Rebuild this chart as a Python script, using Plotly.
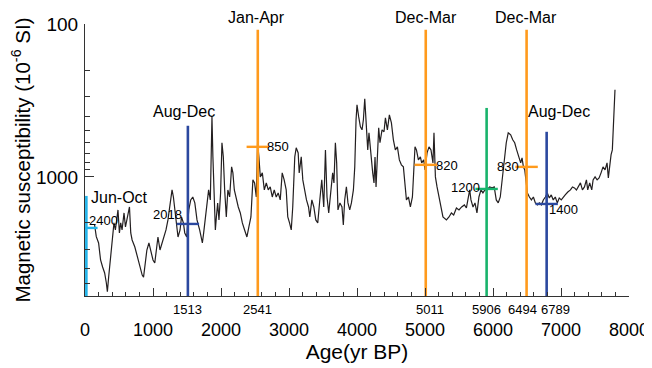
import numpy as np
import plotly.graph_objects as go

# ---------------- data ----------------
age_a = [141, 166, 200, 229, 259, 289, 314, 329, 348, 363, 388, 411, 426, 447, 466, 485, 506, 525, 545, 574,
         595, 614, 633, 654, 673, 693, 733, 773, 807, 841, 861, 881, 910, 940, 969, 1000, 1026, 1051, 1073, 1103,
         1133, 1162, 1191, 1220, 1250, 1280, 1300, 1320, 1345, 1368, 1398, 1419, 1447, 1467, 1496, 1526, 1555, 1585, 1615]
sus_a = [2062, 2460, 2705, 3496, 3887, 4252, 4944, 5640, 4520, 3887, 3145, 2472, 2000, 2224, 1912, 1645, 2326, 2000, 2224, 1721,
         2126, 1912, 1721, 1573, 2326, 2586, 2874, 3342, 3887, 4384, 4520, 3887, 3007, 2705, 3007, 3496, 3657, 3007, 2472, 3007,
         2705, 2472, 2224, 1912, 1480, 1217, 1353, 1645, 2000, 2472, 2224, 1829, 2000, 2326, 2472, 1645, 1415, 1353, 1480]

age_b = [1647, 1686, 1726, 1745, 1774, 1794, 1818, 1843, 1867, 1881, 1902, 1917, 1932, 1951, 1970, 1994, 2014, 2034, 2054, 2078,
         2101, 2127, 2156, 2175, 2196, 2225, 2254, 2284, 2314, 2347, 2381, 2410, 2440, 2469, 2494, 2519, 2538, 2557, 2578, 2608,
         2637, 2666, 2695, 2724, 2754, 2783, 2812, 2841, 2871, 2900, 2929, 2959, 2982, 3008, 3033, 3055, 3085, 3106, 3135]
sus_b = [1912, 2224, 2705, 2326, 1721, 1415, 1217, 1415, 405, 740, 1415, 2224, 1829, 1480, 1912, 1273, 598, 740, 1217, 1829,
         1217, 1353, 860, 941, 1217, 1415, 1573, 1721, 2000, 2224, 2472, 2126, 1829, 1046, 1094, 1353, 598, 740, 1000, 941,
         1217, 1094, 1217, 1163, 1353, 1217, 1353, 1273, 1415, 941, 1046, 1217, 1829, 2000, 2224, 1573, 740, 645, 697]

age_c = [3150, 3180, 3203, 3228, 3257, 3287, 3306, 3336, 3365, 3394, 3423, 3453, 3482, 3511, 3536, 3559, 3584, 3613, 3642, 3661,
         3682, 3701, 3720, 3749, 3779, 3799, 3819, 3844, 3867, 3893, 3918, 3947, 3967, 3986, 4000, 4025, 4050, 4074, 4094, 4114,
         4133, 4158, 4176, 4201, 4231, 4250, 4265, 4280, 4300, 4319, 4338, 4368, 4397, 4418, 4447, 4476, 4506, 4535, 4564, 4594,
         4623, 4653, 4682, 4702]
sus_c = [941, 740, 1046, 1217, 1415, 1573, 1829, 1415, 1573, 1912, 2000, 1415, 1046, 1573, 666, 1353, 1721, 1273, 941, 1094,
         598, 810, 1645, 1480, 1573, 2062, 1415, 1163, 1480, 1645, 1480, 1217, 860, 423, 338, 405, 470, 492, 423, 308,
         443, 666, 515, 697, 941, 1094, 740, 1163, 636, 477, 598, 492, 507, 411, 492, 393, 443, 572, 666, 636,
         774, 834, 860, 1046]

age_d = [4727, 4756, 4785, 4815, 4834, 4853, 4874, 4903, 4932, 4951, 4981, 5000, 5030, 5059, 5088, 5117, 5132, 5153, 5177, 5206,
         5235, 5264, 5315, 5353, 5388, 5422, 5462, 5500, 5539, 5579, 5609, 5638, 5657, 5676, 5706, 5735, 5764, 5793, 5823, 5852,
         5881, 5911, 5950, 5989, 6018, 6048, 6077, 6107, 6136, 6165, 6195, 6224]
sus_d = [1415, 1353, 1573, 1353, 860, 636, 666, 774, 740, 810, 774, 900, 697, 636, 666, 810, 515, 1000, 1163, 1353,
         1645, 1829, 1912, 1829, 1721, 1774, 1597, 1645, 1573, 1526, 1597, 1353, 1217, 1415, 1573, 1480, 1721, 1353, 1217, 1273,
         1217, 1217, 1163, 1180, 1163, 1415, 1480, 1353, 1046, 810, 598, 515]

age_e = [6260, 6290, 6319, 6348, 6378, 6407, 6427, 6447, 6467, 6486, 6506, 6535, 6565, 6594, 6623, 6653, 6682, 6711, 6740, 6770,
         6799, 6828, 6857, 6886, 6916, 6945, 6974, 7004, 7032, 7062, 7100, 7139, 7169, 7198, 7227, 7257, 7286, 7315, 7345, 7374,
         7393, 7422, 7452, 7472, 7501, 7531, 7560, 7589, 7618, 7648, 7677, 7696, 7715, 7736, 7755, 7774, 7794]
sus_e = [531, 572, 598, 666, 740, 810, 751, 860, 900, 1094, 1273, 1353, 1415, 1353, 1480, 1526, 1480, 1526, 1415, 1353,
         1273, 1373, 1312, 1415, 1353, 1480, 1373, 1415, 1353, 1312, 1255, 1217, 1163, 1180, 1217, 1163, 1094, 1217, 1163, 1046,
         1217, 1094, 1217, 1046, 1000, 1046, 1015, 941, 860, 900, 810, 1015, 810, 718, 666, 381, 269]

ages = age_a + age_b + age_c + age_d + age_e
susceptibility = sus_a + sus_b + sus_c + sus_d + sus_e

# events (vertical bars)
event_ages = [20, 1513, 2541, 5011, 5906, 6494, 6789]
event_top = [1332, 463, 109, 109, 354, 109, 507]
event_cross = [2157, 2031, 636, 834, 1199, 860, 1503]
event_seasons = ["Jun-Oct", "Aug-Dec", "Jan-Apr", "Dec-Mar", "", "Dec-Mar", "Aug-Dec"]
event_rates = ["2400", "2018", "850", "820", "1200", "830", "1400"]
event_axis_labels = ["", "1513", "2541", "5011", "5906", "6494", "6789"]
event_colors = ["#22b4ea", "#2b489f", "#ff9a1c", "#ff9a1c", "#18b36b", "#ff9a1c", "#2b489f"]

x_ticks = [0, 1000, 2000, 3000, 4000, 5000, 6000, 7000, 8000]
y_ticks = [100, 1000]
y_minor = [200, 300, 400, 500, 600, 700, 800, 900, 2000, 3000, 4000, 5000]

# ---------------- figure ----------------
FONT = "Liberation Sans, Arial, Helvetica, sans-serif"
Y_BOTTOM = 6012

fig = go.Figure()
fig.add_trace(go.Scatter(x=ages, y=susceptibility, mode="lines",
                         line=dict(color="#231f20", width=1.2), showlegend=False, hoverinfo="skip"))

for i, a in enumerate(event_ages):
    c = event_colors[i]
    fig.add_trace(go.Scatter(x=[a, a], y=[event_top[i], Y_BOTTOM], mode="lines",
                             line=dict(color=c, width=2.6), showlegend=False, hoverinfo="skip"))
    fig.add_trace(go.Scatter(x=[a], y=[event_cross[i]], mode="markers",
                             marker=dict(symbol="line-ew", size=16, line=dict(width=2.4, color=c)),
                             showlegend=False, hoverinfo="skip"))

annotations = []
# season labels (offsets in px relative to bar tops)
season_pos = {
    0: dict(xanchor="left", yanchor="middle", xshift=3, yshift=-2),
    1: dict(xanchor="center", yanchor="bottom", xshift=-4, yshift=4),
    2: dict(xanchor="center", yanchor="bottom", xshift=-1, yshift=2),
    3: dict(xanchor="center", yanchor="bottom", xshift=0, yshift=2),
    5: dict(xanchor="center", yanchor="bottom", xshift=-1, yshift=2),
    6: dict(xanchor="center", yanchor="bottom", xshift=12, yshift=10),
}
for i, p in season_pos.items():
    annotations.append(dict(x=event_ages[i], y=np.log10(event_top[i]), xref="x", yref="y",
                            text=event_seasons[i], showarrow=False,
                            font=dict(family=FONT, size=16, color="black"), **p))

rate_pos = [
    dict(xanchor="left", xshift=1, yshift=7),
    dict(xanchor="right", xshift=-4, yshift=9),
    dict(xanchor="left", xshift=7, yshift=0),
    dict(xanchor="left", xshift=8, yshift=-1),
    dict(xanchor="right", xshift=-5, yshift=1),
    dict(xanchor="right", xshift=-6, yshift=0),
    dict(xanchor="left", xshift=0, yshift=-6),
]
for i, p in enumerate(rate_pos):
    annotations.append(dict(x=event_ages[i], y=np.log10(event_cross[i]), xref="x", yref="y",
                            text=event_rates[i], showarrow=False, yanchor="middle",
                            font=dict(family=FONT, size=13, color="black"), **p))

axis_label_shift = [0, 0, 0, 4, 0, -4, 9]
for i, t in enumerate(event_axis_labels):
    if t:
        annotations.append(dict(x=event_ages[i], y=0, xref="x", yref="paper", text=t,
                                showarrow=False, xanchor="center", yanchor="top", yshift=-4,
                                xshift=axis_label_shift[i],
                                font=dict(family=FONT, size=13, color="black")))

# page body has an 8px margin, so the figure is drawn 8px smaller than the window
fig.update_layout(
    width=644, height=360,
    margin=dict(l=77, r=23, t=16, b=72, autoexpand=False),
    paper_bgcolor="white", plot_bgcolor="white",
    font=dict(family=FONT, color="black"),
    showlegend=False,
    annotations=annotations,
    xaxis=dict(range=[0, 8000], tickvals=x_ticks, ticks="inside", ticklen=8, tickwidth=1,
               tickcolor="#333", showline=True, linecolor="#333", linewidth=1, showgrid=False,
               zeroline=False, tickfont=dict(size=18), ticklabelstandoff=17,
               minor=dict(dtick=200, ticks="inside", ticklen=4, tickcolor="#333", showgrid=False),
               title=dict(text="Age(yr BP)", font=dict(size=21), standoff=4)),
    yaxis=dict(type="log", range=[np.log10(Y_BOTTOM), 2], tickvals=y_ticks, ticktext=["100", "1000"],
               ticks="inside", ticklen=9, tickwidth=1, tickcolor="#333",
               showline=True, linecolor="#333", linewidth=1, showgrid=False, zeroline=False,
               tickfont=dict(size=19), ticklabelstandoff=2,
               minor=dict(tickvals=y_minor, ticks="inside", ticklen=5, tickcolor="#333", showgrid=False),
               title=dict(text="Magnetic susceptibility (10<sup>-6</sup> SI)", font=dict(size=20.5), standoff=5)),
)

fig.write_html("out.html")
